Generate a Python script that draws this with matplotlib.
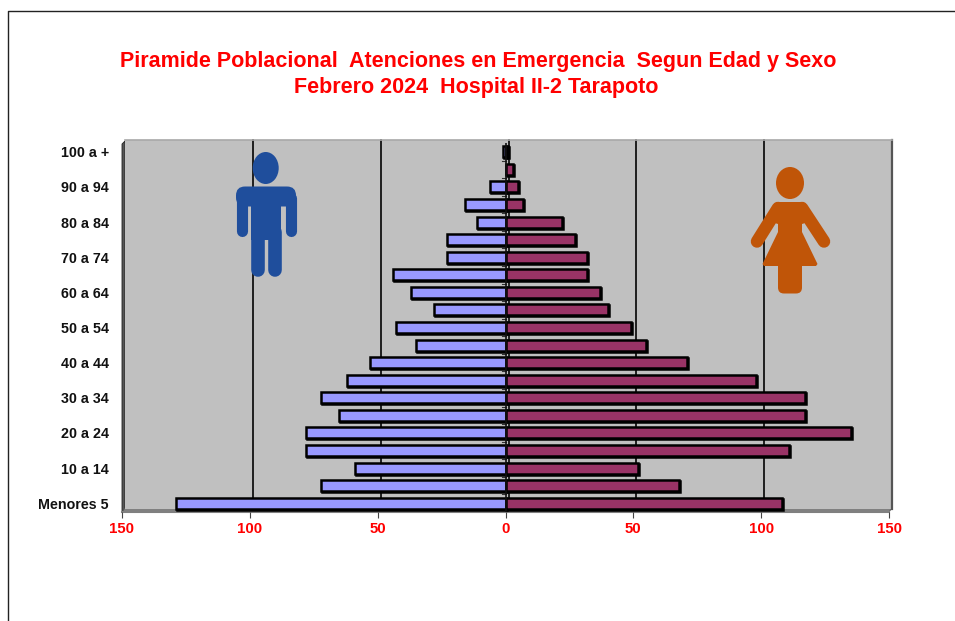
import matplotlib
matplotlib.use('Agg')
import matplotlib.pyplot as plt
from matplotlib.patches import Ellipse, FancyBboxPatch, Polygon, Rectangle
from matplotlib.transforms import ScaledTranslation

plt.rcParams['font.family'] = ['Liberation Sans', 'DejaVu Sans']

W, H = 955, 621

# grupos de edad, de abajo hacia arriba
grupos = ['Menores 5', '5 a 9', '10 a 14', '15 a 19', '20 a 24', '25 a 29', '30 a 34',
          '35 a 39', '40 a 44', '45 a 49', '50 a 54', '55 a 59', '60 a 64', '65 a 69',
          '70 a 74', '75 a 79', '80 a 84', '85 a 89', '90 a 94', '95 a 99', '100 a +']
hombres = [129, 72, 59, 78, 78, 65, 72, 62, 53, 35, 43, 28, 37, 44, 23, 23, 11, 16, 6, 0, 1]
mujeres = [108, 68, 52, 111, 135, 117, 117, 98, 71, 55, 49, 40, 37, 32, 32, 27, 22, 7, 5, 3, 1]
ticks_x = [-150, -100, -50, 0, 50, 100, 150]
etiquetas_x = ['150', '100', '50', '0', '50', '100', '150']

fig = plt.figure(figsize=(W / 100, H / 100), dpi=100)

# capa en pixeles para marco y piso
bg = fig.add_axes([0, 0, 1, 1])
bg.set_xlim(0, W)
bg.set_ylim(H, 0)
bg.axis('off')
bg.plot([7.5, 7.5, W], [H, 11, 11], color='#222222', lw=1)
bg.add_patch(Polygon([(122, 144), (125, 141), (125, 509), (122, 512)], facecolor='#555555',
                     edgecolor='#222222', lw=0.6))
bg.add_patch(Polygon([(122, 512), (125, 508), (892, 508), (889, 512)], facecolor='#808080',
                     edgecolor='#555555', lw=0.6))

# ejes: el frente del grafico, de x=122 a 889 y de y=143 a 512
ax = fig.add_axes([122 / W, 1 - 512 / H, 767 / W, 369 / H])
ax.patch.set_visible(False)
ax.set_xlim(-150, 150)
ax.set_ylim(-0.5, 20.5)
for s in ax.spines.values():
    s.set_visible(False)

# pared del fondo desplazada 3 px arriba y a la derecha
wall = ax.transData + ScaledTranslation(3 / 100, 3 / 100, fig.dpi_scale_trans)
ax.add_patch(Rectangle((-150, -0.5), 300, 21, facecolor='#c0c0c0', edgecolor='none',
                       transform=wall, zorder=0, clip_on=False))
for t in ticks_x[1:-1]:
    ax.plot([t, t], [-0.5, 20.5], color='#111111', lw=1.3, transform=wall, zorder=1, clip_on=False)
ax.plot([150, 150], [-0.5, 20.5], color='#555555', lw=1.6, transform=wall, zorder=1, clip_on=False)
ax.plot([-150, 150], [20.5, 20.5], color='#a8a8a8', lw=1.2, transform=wall, zorder=1, clip_on=False)
ax.plot([-150, 150], [-0.5, -0.5], color='#808080', lw=1.5, zorder=1, clip_on=False)

pos = list(range(len(grupos)))
# sombra negra de las barras, 1 px abajo a la derecha
sombra = ax.transData + ScaledTranslation(1 / 100, -1 / 100, fig.dpi_scale_trans)
ax.barh(pos, mujeres, height=0.62, color='black', edgecolor='black', linewidth=1.8, zorder=2.5,
        transform=sombra, clip_on=False)
ax.barh(pos, [-v for v in hombres], height=0.62, color='black', edgecolor='black', linewidth=1.8,
        zorder=2.5, transform=sombra, clip_on=False)
ax.barh(pos, [-v for v in hombres], height=0.62, color='#9999ff', edgecolor='black',
        linewidth=1.8, zorder=3, clip_on=False)
ax.barh(pos, mujeres, height=0.62, color='#993366', edgecolor='black', linewidth=1.8, zorder=3,
        clip_on=False)
ax.plot([0, 0], [-0.5, 20.5], color='#111111', lw=1.2, zorder=4)

ax.set_xticks(ticks_x)
ax.set_xticklabels(etiquetas_x, color='red', fontweight='bold', fontsize=10.8)
ax.tick_params(axis='x', length=4, width=0.8, color='#444444', pad=3.5)
ax.set_yticks(pos[::2])
ax.set_yticklabels(grupos[::2], fontweight='bold', fontsize=10.3, color='#111111')
ax.tick_params(axis='y', length=0, pad=9.5)
# marcas cortas junto al eje central
for p in pos:
    ax.plot([-1.5, 0], [p - 0.5, p - 0.5], color='#333333', lw=0.8, zorder=2)

fig.text(478 / W, 1 - 62 / H, 'Piramide Poblacional  Atenciones en Emergencia  Segun Edad y Sexo',
         color='red', fontweight='bold', fontsize=15.5, ha='center', va='center')
fig.text(476 / W, 1 - 88 / H, 'Febrero 2024  Hospital II-2 Tarapoto',
         color='red', fontweight='bold', fontsize=15.5, ha='center', va='center')

# capa superior para los iconos
top = fig.add_axes([0, 0, 1, 1])
top.set_xlim(0, W)
top.set_ylim(H, 0)
top.axis('off')

# icono hombre
azul = '#1f4e9c'
top.add_patch(Ellipse((265.7, 168), 26, 32, color=azul, lw=0))
top.add_patch(FancyBboxPatch((236, 186.5), 60, 20, boxstyle='round,pad=0,rounding_size=9',
                             color=azul, lw=0))
top.add_patch(Rectangle((251, 200), 30, 40, color=azul, lw=0))
for xa in (241.5, 290.5):
    top.plot([xa, xa], [198, 231], color=azul, lw=8, solid_capstyle='round')
for xa in (257.5, 274.5):
    top.plot([xa, xa], [232, 270], color=azul, lw=9.8, solid_capstyle='round')

# icono mujer
naranja = '#c05508'
top.add_patch(Ellipse((790, 183), 28, 32, color=naranja, lw=0))
top.add_patch(FancyBboxPatch((773, 202), 34, 22, boxstyle='round,pad=0,rounding_size=6',
                             color=naranja, lw=0))
top.add_patch(Polygon([(778, 215), (802, 215), (802, 232), (817.5, 264), (816, 266),
                       (764, 266), (762.5, 264), (778, 232)], color=naranja, lw=0))
top.plot([778, 757], [208, 241.5], color=naranja, lw=9, solid_capstyle='round')
top.plot([802, 824], [208, 241.5], color=naranja, lw=9, solid_capstyle='round')
top.add_patch(FancyBboxPatch((778, 260), 24, 33.5, boxstyle='round,pad=0,rounding_size=6',
                             color=naranja, lw=0))

fig.savefig('out.png', dpi=100)
